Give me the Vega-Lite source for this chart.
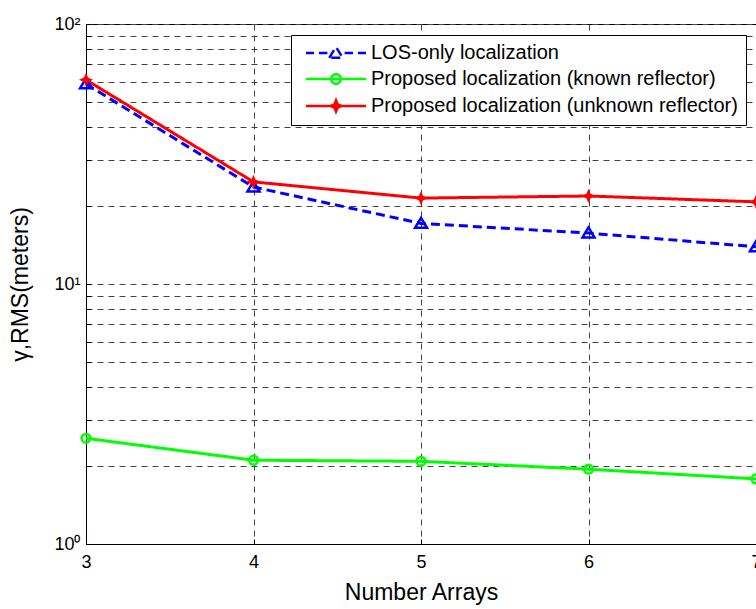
{
  "$schema": "https://vega.github.io/schema/vega-lite/v6.json",
  "width": 670,
  "height": 520,
  "autosize": "none",
  "padding": {"left": 86, "top": 24, "right": 0, "bottom": 65},
  "background": "white",
  "config": {
    "view": {"stroke": "black", "strokeWidth": 1},
    "font": "Liberation Sans",
    "axis": {
      "domainColor": "black",
      "domainWidth": 1,
      "grid": true,
      "gridColor": "#444444",
      "gridDash": [6, 5],
      "gridWidth": 1,
      "gridOpacity": 1,
      "tickColor": "black",
      "tickSize": -5,
      "labelColor": "black",
      "labelFont": "Liberation Sans",
      "labelFontSize": 18,
      "titleFont": "Liberation Sans",
      "titleFontSize": 23,
      "titleFontWeight": "normal",
      "titleColor": "black"
    }
  },
  "data": {
    "values": [
      {"n": 3, "series": "LOS-only localization", "v": 58.8},
      {"n": 4, "series": "LOS-only localization", "v": 23.6},
      {"n": 5, "series": "LOS-only localization", "v": 17.1},
      {"n": 6, "series": "LOS-only localization", "v": 15.7},
      {"n": 7, "series": "LOS-only localization", "v": 13.9},
      {"n": 3, "series": "Proposed localization (known reflector)", "v": 2.55},
      {"n": 4, "series": "Proposed localization (known reflector)", "v": 2.1},
      {"n": 5, "series": "Proposed localization (known reflector)", "v": 2.08},
      {"n": 6, "series": "Proposed localization (known reflector)", "v": 1.94},
      {"n": 7, "series": "Proposed localization (known reflector)", "v": 1.78},
      {"n": 3, "series": "Proposed localization (unknown reflector)", "v": 61.0},
      {"n": 4, "series": "Proposed localization (unknown reflector)", "v": 24.7},
      {"n": 5, "series": "Proposed localization (unknown reflector)", "v": 21.4},
      {"n": 6, "series": "Proposed localization (unknown reflector)", "v": 21.8},
      {"n": 7, "series": "Proposed localization (unknown reflector)", "v": 20.7}
    ]
  },
  "encoding": {
    "x": {
      "field": "n",
      "type": "quantitative",
      "scale": {"domain": [3, 7], "nice": false, "zero": false},
      "axis": {
        "title": "Number Arrays",
        "values": [3, 4, 5, 6, 7],
        "format": "d",
        "labelPadding": 14,
        "titlePadding": 10,
        "labelFlush": false
      }
    },
    "y": {
      "field": "v",
      "type": "quantitative",
      "scale": {"type": "log", "domain": [1, 100], "nice": false},
      "axis": {
        "title": "γ,RMS(meters)",
        "values": [1, 2, 3, 4, 5, 6, 7, 8, 9, 10, 20, 30, 40, 50, 60, 70, 80, 90, 100],
        "labelExpr": "datum.value == 1 ? '10⁰' : datum.value == 10 ? '10¹' : datum.value == 100 ? '10²' : ''",
        "labelPadding": 11,
        "titlePadding": 21,
        "labelFlush": false
      }
    }
  },
  "layer": [
    {
      "mark": {"type": "line", "strokeWidth": 3, "clip": true},
      "encoding": {
        "color": {
          "field": "series",
          "type": "nominal",
          "scale": {
            "domain": ["LOS-only localization", "Proposed localization (known reflector)", "Proposed localization (unknown reflector)"],
            "range": ["#0000FF", "#00FF00", "#FF0000"]
          },
          "legend": {
            "title": null,
            "orient": "none",
            "legendX": 205,
            "legendY": 11,
            "strokeColor": "black",
            "fillColor": "white",
            "padding": 8,
            "rowPadding": 6,
            "symbolSize": 16,
            "symbolOffset": 27,
            "labelOffset": 25,
            "labelFontSize": 20,
            "labelFont": "Liberation Sans",
            "labelColor": "black",
            "labelLimit": 600,
            "symbolStrokeWidth": 2.5,
            "encode": {
              "symbols": {
                "update": {
                  "shape": {"signal": "datum.value === 'LOS-only localization' ? 'M-15,0L-11,0M-8.5,0L-4.3,0M-3.4,2.4L0,-3L3.4,2.4ZM4.3,0L8.5,0M11,0L15,0' : datum.value === 'Proposed localization (known reflector)' ? 'M-15,0L15,0M-2.4,0A2.4,2.4 0 1,0 2.4,0A2.4,2.4 0 1,0 -2.4,0Z' : 'M-15,0L15,0M0,-2.8L0.8,-0.8L2.8,0L0.8,0.8L0,2.8L-0.8,0.8L-2.8,0L-0.8,-0.8Z'"},
                  "fill": {"signal": "datum.value === 'Proposed localization (unknown reflector)' ? '#FF0000' : 'transparent'"},
                  "strokeDash": {"value": [1, 0]},
                  "strokeWidth": {"value": 2.5},
                  "size": {"value": 16}
                }
              }
            }
          }
        },
        "strokeDash": {
          "field": "series",
          "type": "nominal",
          "scale": {
            "domain": ["LOS-only localization", "Proposed localization (known reflector)", "Proposed localization (unknown reflector)"],
            "range": [[9, 5], [1, 0], [1, 0]]
          },
          "legend": null
        }
      }
    },
    {
      "transform": [{"filter": "datum.series === 'LOS-only localization'"}],
      "mark": {"type": "point", "shape": "M-3,2.2L0,-2.8L3,2.2Z", "filled": false, "stroke": "#0000FF", "fill": "transparent", "strokeWidth": 2.5, "size": 16, "opacity": 1}
    },
    {
      "transform": [{"filter": "datum.series === 'Proposed localization (known reflector)'"}],
      "mark": {"type": "point", "shape": "M-2.2,0A2.2,2.2 0 1,0 2.2,0A2.2,2.2 0 1,0 -2.2,0Z", "filled": false, "stroke": "#00FF00", "fill": "transparent", "strokeWidth": 2.5, "size": 16, "opacity": 1}
    },
    {
      "transform": [{"filter": "datum.series === 'Proposed localization (unknown reflector)'"}],
      "mark": {"type": "point", "shape": "M0,-2.6L0.8,-0.8L2.6,0L0.8,0.8L0,2.6L-0.8,0.8L-2.6,0L-0.8,-0.8Z", "filled": true, "stroke": "#FF0000", "fill": "#FF0000", "strokeWidth": 1.5, "size": 16, "opacity": 1}
    }
  ]
}
